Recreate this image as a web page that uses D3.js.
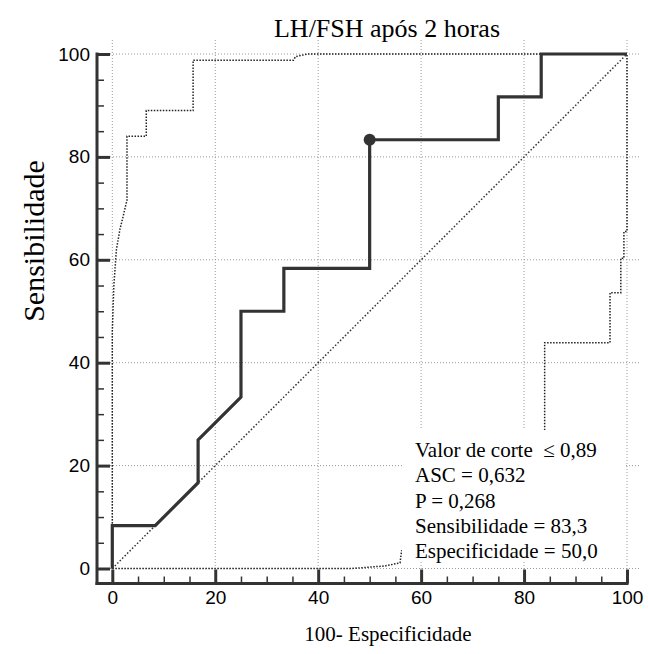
<!DOCTYPE html>
<html>
<head>
<meta charset="utf-8">
<script src="https://cdn.jsdelivr.net/npm/d3@7"></script>
<style>
  body { margin: 0; background: #fff; }
  svg { display: block; }
  .serif { font-family: "Liberation Serif", "Times New Roman", Times, "DejaVu Serif", serif; }
  .sans { font-family: "Liberation Sans", Arial, Helvetica, sans-serif; }
</style>
</head>
<body>
<svg width="649" height="654"></svg>
<script>
// ROC curve (100-spec, sens)
var rocX = [0, 0, 8.33, 16.67, 16.67, 25, 25, 33.33, 33.33, 50, 50, 75, 75, 83.33, 83.33, 100];
var rocY = [0, 8.33, 8.33, 16.67, 25, 33.33, 50, 50, 58.33, 58.33, 83.33, 83.33, 91.67, 91.67, 100, 100];

// confidence bands
var upX = [0, 0, 0.3, 0.8, 1.5, 2.0, 2.85, 2.85, 6.6, 6.6, 15.7, 15.7, 35.2, 35.6, 38, 100];
var upY = [0, 46, 55, 62, 66, 68, 71.6, 84, 84, 89, 89, 98.8, 98.8, 99.5, 100, 100];
var loX = [0, 46.5, 53, 55.9, 56.2, 84, 84, 84, 96.7, 96.7, 98.8, 98.8, 99.4, 99.4, 100, 100];
var loY = [0, 0, 0.5, 1.1, 3.4, 3.4, 27, 43.9, 43.9, 53.6, 53.6, 60.3, 60.3, 65.5, 65.5, 100];

var cutPoint = [50, 83.33];
var majorTicks = [0, 20, 40, 60, 80, 100];
var minorTicks = [5, 10, 15, 25, 30, 35, 45, 50, 55, 65, 70, 75, 85, 90, 95];

var title = "LH/FSH após 2 horas";
var xTitle = "100- Especificidade";
var yTitle = "Sensibilidade";
var notes = ["Valor de corte  \u2264 0,89", "ASC = 0,632", "P = 0,268", "Sensibilidade = 83,3", "Especificidade = 50,0"];

var svg = d3.select('svg');

var x = d3.scaleLinear().domain([0, 100]).range([112.3, 627]);
var y = d3.scaleLinear().domain([0, 100]).range([568.5, 54]);

var axisX = 97, axisY = 583.5;

// grid
svg.append('g').selectAll('line').data(majorTicks).enter().append('line')
  .attr('x1', d => x(d)).attr('x2', d => x(d))
  .attr('y1', 40).attr('y2', 569)
  .attr('stroke', '#999').attr('stroke-width', 1).attr('stroke-dasharray', '1,2');
svg.append('g').selectAll('line').data(majorTicks).enter().append('line')
  .attr('y1', d => y(d)).attr('y2', d => y(d))
  .attr('x1', 110).attr('x2', 641)
  .attr('stroke', '#999').attr('stroke-width', 1).attr('stroke-dasharray', '1,2');

// diagonal
svg.append('line')
  .attr('x1', x(0)).attr('y1', y(0)).attr('x2', x(100)).attr('y2', y(100))
  .attr('stroke', '#333').attr('stroke-width', 1.5).attr('stroke-dasharray', '1.5,2');

var line = d3.line().x(d => x(d[0])).y(d => y(d[1]));

svg.append('path').datum(d3.zip(upX, upY)).attr('d', line)
  .attr('fill', 'none').attr('stroke', '#222').attr('stroke-width', 1.5).attr('stroke-dasharray', '1.5,1.5');
svg.append('path').datum(d3.zip(loX, loY)).attr('d', line)
  .attr('fill', 'none').attr('stroke', '#222').attr('stroke-width', 1.5).attr('stroke-dasharray', '1.5,1.5');

svg.append('path').datum(d3.zip(rocX, rocY)).attr('d', line)
  .attr('fill', 'none').attr('stroke', '#333').attr('stroke-width', 3.2).attr('stroke-linejoin', 'miter');

svg.append('circle').attr('cx', x(cutPoint[0])).attr('cy', y(cutPoint[1])).attr('r', 6).attr('fill', '#333');

// annotation box
svg.append('rect').attr('x', 402).attr('y', 430).attr('width', 223).attr('height', 132).attr('fill', '#fff');
svg.append('g').selectAll('text').data(notes).enter().append('text')
  .attr('class', 'serif')
  .attr('x', 415).attr('y', (d, i) => 457 + i * 25.3)
  .attr('font-size', 21).attr('fill', '#000')
  .style('white-space', 'pre')
  .text(d => d);

// axes
var yAxis = d3.axisLeft(y).tickValues(majorTicks).tickSizeInner(-13).tickSizeOuter(0).tickPadding(7);
var gy = svg.append('g').attr('transform', 'translate(' + axisX + ',0)').call(yAxis);
gy.attr('font-family', null).attr('font-size', null);
gy.select('.domain').remove();
gy.selectAll('line').attr('stroke', '#333').attr('stroke-width', 3);
gy.selectAll('text').attr('class', 'sans').attr('font-size', 19).attr('fill', '#000');

var yMinor = d3.axisLeft(y).tickValues(minorTicks).tickSize(-7).tickFormat('');
var gym = svg.append('g').attr('transform', 'translate(' + axisX + ',0)').call(yMinor);
gym.select('.domain').remove();
gym.selectAll('line').attr('stroke', '#333').attr('stroke-width', 1.5);

var xAxis = d3.axisBottom(x).tickValues(majorTicks).tickSizeInner(-14).tickSizeOuter(0).tickPadding(7);
var gx = svg.append('g').attr('transform', 'translate(0,' + axisY + ')').call(xAxis);
gx.attr('font-family', null).attr('font-size', null);
gx.select('.domain').remove();
gx.selectAll('line').attr('stroke', '#333').attr('stroke-width', 3);
gx.selectAll('text').attr('class', 'sans').attr('font-size', 19).attr('fill', '#000');

var xMinor = d3.axisBottom(x).tickValues(minorTicks).tickSize(-7).tickFormat('');
var gxm = svg.append('g').attr('transform', 'translate(0,' + axisY + ')').call(xMinor);
gxm.select('.domain').remove();
gxm.selectAll('line').attr('stroke', '#333').attr('stroke-width', 1.5);

// axis lines
svg.append('line').attr('x1', axisX).attr('x2', axisX).attr('y1', y(100) - 1.5).attr('y2', axisY + 1.5)
  .attr('stroke', '#333').attr('stroke-width', 3);
svg.append('line').attr('x1', axisX - 1.5).attr('x2', x(100) + 1.5).attr('y1', axisY).attr('y2', axisY)
  .attr('stroke', '#333').attr('stroke-width', 3);

// titles
svg.append('text').attr('class', 'serif').attr('x', 387).attr('y', 37).attr('text-anchor', 'middle')
  .attr('font-size', 26).attr('fill', '#000').text(title);
svg.append('text').attr('class', 'serif').attr('x', 388).attr('y', 641).attr('text-anchor', 'middle')
  .attr('font-size', 21).attr('fill', '#000').text(xTitle);
svg.append('text').attr('class', 'serif').attr('transform', 'translate(44,241) rotate(-90)').attr('text-anchor', 'middle')
  .attr('font-size', 30).attr('fill', '#000').text(yTitle);
</script>
</body>
</html>
